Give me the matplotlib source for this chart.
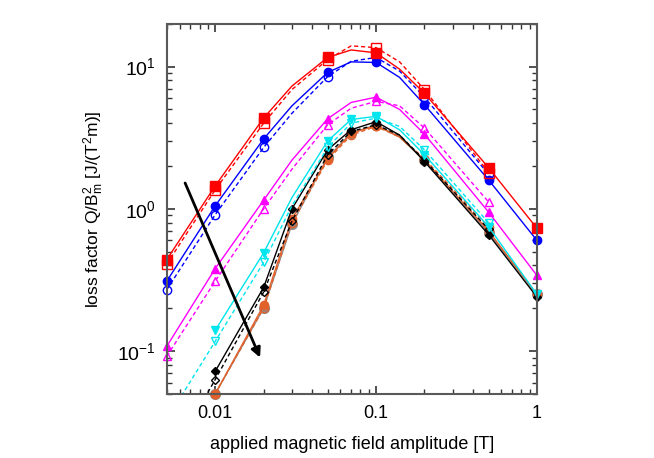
import matplotlib
matplotlib.use("Agg")
import matplotlib.pyplot as plt
import numpy as np

plt.rcParams["font.family"] = ["Liberation Sans", "DejaVu Sans"]
plt.rcParams["mathtext.fontset"] = "custom"
plt.rcParams["mathtext.rm"] = "Liberation Sans"
plt.rcParams["mathtext.it"] = "Liberation Sans:italic"

nan = np.nan

# field amplitude [T]
B = [0.005, 0.01, 0.02, 0.03, 0.05, 0.07, 0.1, 0.14, 0.2, 0.5, 1.0]

# loss factor Q/Bm^2
red_solid = [0.44, 1.45, 4.35, 7.3, 11.6, 13.1, 12.5, 9.6, 6.5, 1.95, 0.73]
red_dash = [0.41, 1.36, 4.0, 6.9, 11.2, 14.0, 13.6, 10.8, 6.9, 1.8, nan]
blue_solid = [0.31, 1.05, 3.1, 5.3, 9.1, 10.8, 10.7, 8.4, 5.4, 1.6, 0.6]
blue_dash = [0.27, 0.91, 2.7, 4.7, 8.5, 10.9, 11.6, 9.3, 6.1, 1.75, nan]
mag_solid = [0.108, 0.38, 1.15, 2.2, 4.3, 5.6, 6.1, 5.0, 3.35, 0.95, 0.34]
mag_dash = [0.092, 0.31, 1.0, 1.9, 3.9, 5.1, 5.7, 5.3, 3.7, 1.12, nan]
cyan_solid = [nan, 0.14, 0.49, 1.2, 3.0, 4.25, 4.47, 3.6, 2.4, 0.75, 0.25]
cyan_dash = [0.033, 0.117, 0.42, 1.05, 2.7, 4.0, 4.35, 3.8, 2.6, 0.8, nan]
black_solid = [nan, 0.072, 0.28, 1.0, 2.6, 3.6, 4.1, 3.3, 2.15, 0.66, 0.24]
black_dash = [0.016, 0.063, 0.26, 0.82, 2.4, 3.5, 3.9, 3.3, 2.2, 0.72, nan]
gray_solid = [nan, 0.05, 0.2, 0.78, 2.3, 3.4, 3.9, 3.2, 2.2, 0.68, 0.25]
orange_solid = [nan, 0.05, 0.21, 0.85, 2.25, 3.4, 3.85, 3.2, 2.2, 0.7, 0.25]
orange_dash = [nan, 0.05, 0.2, 0.8, 2.2, 3.3, 3.8, 3.2, 2.25, 0.75, nan]

# which of the B values carry a marker
mark_hi = [0, 1, 2, 4, 6, 8, 9, 10]
mark_cy = [1, 2, 4, 5, 6, 8, 9, 10]
mark_lo = [1, 2, 3, 4, 5, 6, 8, 9, 10]

orange = "#e2602a"
dash = (0, (3, 2))

fig = plt.figure(figsize=(6.54, 4.58), dpi=100)
ax = fig.add_axes([0.255, 0.140, 0.566, 0.808])

series = [
    # y, color, marker, filled, linestyle, marker indices, markersize
    (gray_solid, "0.55", "o", True, "-", mark_lo, 7),
    (orange_dash, orange, "o", False, dash, mark_lo, 6),
    (orange_solid, orange, "o", True, "-", mark_lo, 6),
    (black_dash, "k", "D", False, dash, mark_lo, 4),
    (black_solid, "k", "D", True, "-", mark_lo, 4),
    (cyan_dash, "#00e5ee", "v", False, dash, mark_cy, 5.5),
    (cyan_solid, "#00e5ee", "v", True, "-", mark_cy, 5.5),
    (mag_dash, "#ff00ff", "^", False, dash, mark_hi, 5.5),
    (mag_solid, "#ff00ff", "^", True, "-", mark_hi, 5.5),
    (blue_dash, "#0000ff", "o", False, dash, mark_hi, 6),
    (blue_solid, "#0000ff", "o", True, "-", mark_hi, 6),
    (red_dash, "#ff0000", "s", False, dash, mark_hi, 6.5),
    (red_solid, "#ff0000", "s", True, "-", mark_hi, 6.5),
]

for y, c, m, filled, ls, me, ms in series:
    ax.plot(B, y, color=c, ls=ls, lw=1.0)
    # markers drawn unclipped so the ones on the frame show whole
    bx = np.array(B)[me]
    by = np.array(y)[me]
    ok = by >= 0.05
    ax.plot(bx[ok], by[ok], ls="none", marker=m, ms=ms, clip_on=False,
            mfc=c if filled else "none", mec=c, mew=1.0)

# arrow showing the trend
ax.annotate("", xy=(0.019, 0.09), xytext=(0.0065, 1.52),
            arrowprops=dict(arrowstyle="-|>", lw=2, color="k",
                            mutation_scale=14, shrinkA=0, shrinkB=0))

ax.set_xscale("log")
ax.set_yscale("log")
ax.set_xlim(0.005, 1)
ax.set_ylim(0.05, 20)
ax.set_xticks([0.01, 0.1, 1])
ax.set_xticklabels(["0.01", "0.1", "1"])
ax.set_yticks([0.1, 1, 10])
ax.set_yticklabels([r"10$^{-1}$", r"10$^{0}$", r"10$^{1}$"])

ax.tick_params(which="both", direction="in", top=True, right=True,
               labelsize=13, color="0.2")
ax.tick_params(axis="y", labelsize=14)
ax.tick_params(which="major", length=6, width=1.2, pad=8)
ax.tick_params(which="minor", length=3.5, width=1.0)
for s in ax.spines.values():
    s.set_color("0.35")
    s.set_linewidth(1.5)

ax.set_xlabel("applied magnetic field amplitude [T]", fontsize=13, labelpad=10)
ax.set_ylabel(r"loss factor Q/B$_\mathrm{m}^2$ [J/(T$^2$m)]", fontsize=12.5, labelpad=8)

fig.savefig("out.png", dpi=100)
